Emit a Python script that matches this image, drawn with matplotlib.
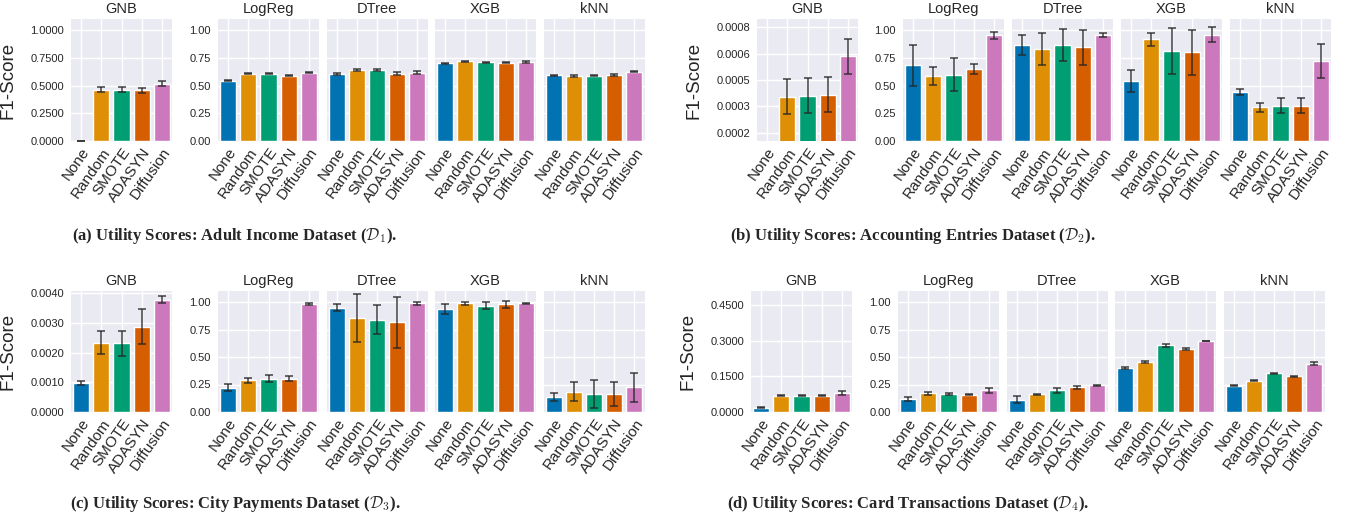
import matplotlib
matplotlib.use("Agg")
import matplotlib.pyplot as plt
import numpy as np
import seaborn as sns

sns.set_theme(style="darkgrid")
plt.rcParams["font.family"] = ["Liberation Sans", "DejaVu Sans"]
plt.rcParams["mathtext.fontset"] = "cm"

methods = ["None", "Random", "SMOTE", "ADASYN", "Diffusion"]
classifiers = ["GNB", "LogReg", "DTree", "XGB", "kNN"]

# ---- (a) Adult Income: rows = classifiers, cols = methods
d1_mean = [
    [0.0, 0.464, 0.464, 0.458, 0.518],
    [0.542, 0.605, 0.605, 0.590, 0.614],
    [0.605, 0.641, 0.641, 0.608, 0.617],
    [0.702, 0.717, 0.711, 0.705, 0.711],
    [0.593, 0.587, 0.590, 0.593, 0.623],
]
d1_err = [
    [0.0, 0.024, 0.022, 0.024, 0.020],
    [0.005, 0.005, 0.005, 0.004, 0.005],
    [0.012, 0.012, 0.008, 0.012, 0.015],
    [0.005, 0.004, 0.004, 0.005, 0.012],
    [0.005, 0.006, 0.008, 0.008, 0.005],
]
# ---- (b) Accounting Entries
d2_mean = [
    [0.0, 0.000405, 0.000411, 0.000417, 0.000636],
    [0.681, 0.587, 0.599, 0.651, 0.952],
    [0.867, 0.828, 0.864, 0.846, 0.958],
    [0.542, 0.916, 0.810, 0.798, 0.958],
    [0.440, 0.304, 0.319, 0.319, 0.723],
]
d2_err = [
    [0.0, 0.000099, 0.000099, 0.000099, 0.000099],
    [0.187, 0.080, 0.146, 0.044, 0.032],
    [0.090, 0.142, 0.145, 0.158, 0.018],
    [0.102, 0.060, 0.206, 0.205, 0.066],
    [0.029, 0.042, 0.066, 0.066, 0.152],
]
# ---- (c) City Payments
d3_mean = [
    [0.000975, 0.00234, 0.00231, 0.00288, 0.00379],
    [0.220, 0.289, 0.304, 0.304, 0.982],
    [0.949, 0.855, 0.840, 0.816, 0.988],
    [0.940, 0.988, 0.967, 0.979, 0.988],
    [0.136, 0.184, 0.163, 0.166, 0.223],
]
d3_err = [
    [0.000067, 0.00039, 0.00043, 0.00060, 0.00011],
    [0.032, 0.023, 0.030, 0.024, 0.012],
    [0.030, 0.221, 0.133, 0.232, 0.012],
    [0.045, 0.014, 0.029, 0.029, 0.003],
    [0.033, 0.087, 0.127, 0.108, 0.130],
]
# ---- (d) Card Transactions
d4_mean = [
    [0.0182, 0.0685, 0.0685, 0.0685, 0.0797],
    [0.117, 0.172, 0.163, 0.157, 0.196],
    [0.111, 0.160, 0.196, 0.223, 0.244],
    [0.401, 0.455, 0.605, 0.575, 0.645],
    [0.238, 0.283, 0.352, 0.325, 0.440],
]
d4_err = [
    [0.002, 0.003, 0.003, 0.003, 0.007],
    [0.021, 0.014, 0.008, 0.005, 0.026],
    [0.030, 0.008, 0.020, 0.015, 0.005],
    [0.008, 0.005, 0.012, 0.008, 0.004],
    [0.004, 0.005, 0.005, 0.004, 0.015],
]

# GNB axis (own scale) per dataset
gnb_ylims = [(0, 1.1), (0.000152, 0.000848), (0, 0.00408), (0, 0.509)]
gnb_ticks = [
    [0.0, 0.25, 0.5, 0.75, 1.0],
    [0.0002, 0.00035, 0.0005, 0.00065, 0.0008],
    [0.0, 0.001, 0.002, 0.003, 0.004],
    [0.0, 0.15, 0.30, 0.45],
]
gnb_ticklabels = [
    ["0.0000", "0.2500", "0.5000", "0.7500", "1.0000"],
    ["0.0002", "0.0003", "0.0005", "0.0006", "0.0008"],
    ["0.0000", "0.0010", "0.0020", "0.0030", "0.0040"],
    ["0.0000", "0.1500", "0.3000", "0.4500"],
]
shared_ticks = [0.0, 0.25, 0.5, 0.75, 1.0]
shared_ticklabels = ["0.00", "0.25", "0.50", "0.75", "1.00"]

captions = [
    r"(a) Utility Scores: Adult Income Dataset ($\mathcal{D}_1$).",
    r"(b) Utility Scores: Accounting Entries Dataset ($\mathcal{D}_2$).",
    r"(c) Utility Scores: City Payments Dataset ($\mathcal{D}_3$).",
    r"(d) Utility Scores: Card Transactions Dataset ($\mathcal{D}_4$).",
]

colors = ["#0173B2", "#DE8F05", "#029E73", "#D55E00", "#CC78BC"]

W, H = 1348, 521
fig = plt.figure(figsize=(W / 100, H / 100), dpi=100)


def rect(left, top, width, bottom):
    return [left / W, 1 - bottom / H, width / W, (bottom - top) / H]


# layout in pixels
layouts = [
    dict(gnb=71, others=[218, 326.5, 435, 543.5], top=19, bottom=141, ylab=17, cap=(235, 236)),
    dict(gnb=757, others=[903, 1012, 1121, 1230], top=19, bottom=141, ylab=703, cap=(913, 236)),
    dict(gnb=71, others=[218, 326.5, 435, 543.5], top=291, bottom=412, ylab=17, cap=(235, 504)),
    dict(gnb=751, others=[898, 1006.5, 1115, 1223.5], top=291, bottom=412, ylab=697, cap=(908, 504)),
]
AXW = 101

datasets = [(d1_mean, d1_err), (d2_mean, d2_err), (d3_mean, d3_err), (d4_mean, d4_err)]
x = np.arange(len(methods))

for p, ((means, errs), lay) in enumerate(zip(datasets, layouts)):
    lefts = [lay["gnb"]] + lay["others"]
    for j, clf in enumerate(classifiers):
        ax = fig.add_axes(rect(lefts[j], lay["top"], AXW, lay["bottom"]))
        ax.bar(x, means[j], width=0.8, color=colors, edgecolor="white", linewidth=1.0)
        ax.errorbar(x, means[j], yerr=errs[j], fmt="none", ecolor="#262626",
                    elinewidth=1.2, capsize=3, capthick=1.2, alpha=0.8)
        ax.set_xlim(-0.5, 4.5)
        ax.set_xticks(x)
        ax.set_xticklabels(methods, rotation=55, ha="right", rotation_mode="anchor",
                           fontsize=11)
        ax.tick_params(axis="x", pad=3, length=0)
        ax.tick_params(axis="y", pad=5, length=0, labelsize=8)
        ax.set_title(clf, fontsize=10.5, pad=4)
        if j == 0:
            ax.set_ylim(*gnb_ylims[p])
            ax.set_yticks(gnb_ticks[p])
            ax.set_yticklabels(gnb_ticklabels[p])
            ax.set_ylabel("F1-Score", fontsize=13.5)
            ax.yaxis.set_label_coords((lay["ylab"] - lay["gnb"]) / AXW, 0.5)
        else:
            ax.set_ylim(0, 1.1)
            ax.set_yticks(shared_ticks)
            if j == 1:
                ax.set_yticklabels(shared_ticklabels)
            else:
                ax.tick_params(axis="y", labelleft=False)
        for s in ax.spines.values():
            s.set_visible(False)
    fig.text(lay["cap"][0] / W, 1 - lay["cap"][1] / H, captions[p], ha="center", va="center",
             fontsize=12, fontweight="bold", family="Liberation Serif")

fig.savefig("out.png", dpi=100)
